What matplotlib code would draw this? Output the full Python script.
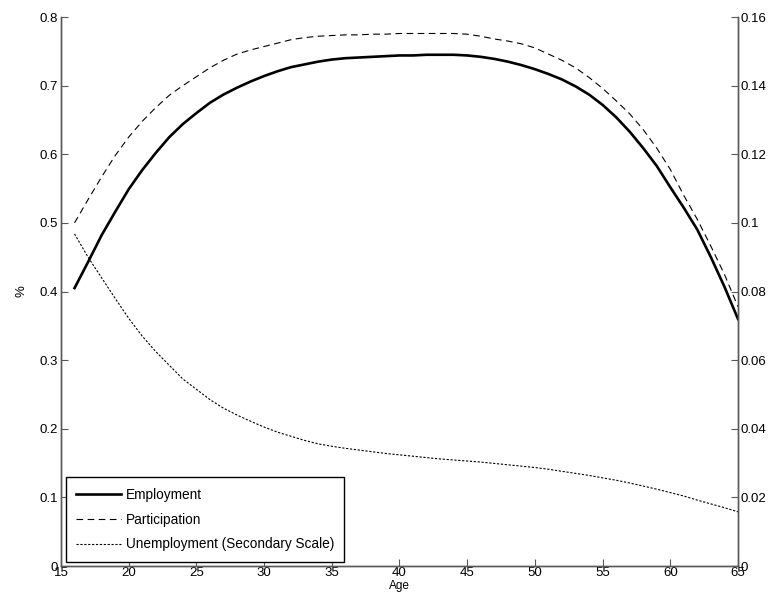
import matplotlib
matplotlib.use("Agg")
import matplotlib.pyplot as plt
import numpy as np

# ages and series
age = np.arange(16, 66)

employment = [0.405, 0.443, 0.482, 0.516, 0.549, 0.577, 0.602, 0.625, 0.644, 0.660,
              0.675, 0.687, 0.697, 0.706, 0.714, 0.721, 0.727, 0.731, 0.735, 0.738,
              0.740, 0.741, 0.742, 0.743, 0.744, 0.744, 0.745, 0.745, 0.745, 0.744,
              0.742, 0.739, 0.735, 0.730, 0.724, 0.717, 0.709, 0.699, 0.687, 0.672,
              0.654, 0.633, 0.609, 0.583, 0.552, 0.522, 0.490, 0.450, 0.407, 0.360]

participation = [0.500, 0.534, 0.567, 0.598, 0.625, 0.648, 0.668, 0.686, 0.700, 0.713,
                 0.726, 0.737, 0.746, 0.752, 0.757, 0.762, 0.767, 0.770, 0.772, 0.773,
                 0.774, 0.774, 0.775, 0.775, 0.776, 0.776, 0.776, 0.776, 0.776, 0.775,
                 0.772, 0.768, 0.765, 0.761, 0.755, 0.746, 0.737, 0.726, 0.712, 0.696,
                 0.678, 0.659, 0.636, 0.609, 0.578, 0.540, 0.505, 0.466, 0.425, 0.378]

unemployment = [0.0968, 0.0900, 0.0840, 0.0780, 0.0722, 0.0670, 0.0625, 0.0585, 0.0545, 0.0515,
                0.0485, 0.0460, 0.0440, 0.0422, 0.0405, 0.0390, 0.0378, 0.0366, 0.0356, 0.0349,
                0.0343, 0.0338, 0.0333, 0.0328, 0.0324, 0.0320, 0.0316, 0.0312, 0.0309, 0.0306,
                0.0303, 0.0299, 0.0295, 0.0291, 0.0287, 0.0282, 0.0276, 0.0270, 0.0264, 0.0257,
                0.0250, 0.0242, 0.0233, 0.0224, 0.0214, 0.0204, 0.0192, 0.0181, 0.0170, 0.0158]

xticks = [15, 20, 25, 30, 35, 40, 45, 50, 55, 60, 65]
yticks_left = [0, 0.1, 0.2, 0.3, 0.4, 0.5, 0.6, 0.7, 0.8]
yticks_right = [0, 0.02, 0.04, 0.06, 0.08, 0.1, 0.12, 0.14, 0.16]

plt.rcParams['font.family'] = ['Liberation Sans', 'DejaVu Sans']
plt.rcParams['font.size'] = 9.5

fig = plt.figure(figsize=(7.7, 5.93), dpi=100)
# axes box: x 61..738 px, y 17..566 px
ax = fig.add_axes([0.0792, 0.0455, 0.8792, 0.9258])
ax2 = ax.twinx()

l1, = ax.plot(age, employment, color="black", lw=1.9, label="Employment")
l2, = ax.plot(age, participation, color="black", lw=0.8, dashes=(6, 4), label="Participation")
l3, = ax2.plot(age, unemployment, color="black", lw=0.8, dashes=(2, 1.5),
               label="Unemployment (Secondary Scale)")

ax.set_xlim(15, 65)
ax.set_ylim(0, 0.8)
ax2.set_ylim(0, 0.16)
ax.set_xticks(xticks)
ax.set_yticks(yticks_left)
ax.set_yticklabels([("%g" % v) for v in yticks_left])
ax2.set_yticks(yticks_right)
ax2.set_yticklabels([("%g" % v) for v in yticks_right])

for a in (ax, ax2):
    a.spines["top"].set_visible(False)
    for s in a.spines.values():
        s.set_color("0.35")
        s.set_linewidth(1.0)
    a.tick_params(direction="in", length=5, width=0.8, color="0.35", pad=2)
ax.tick_params(axis="x", pad=1)

ax.set_xlabel("Age", fontsize=8.5)
ax.xaxis.set_label_coords(0.5, -0.037)
ax.xaxis.label.set_va("center")
ax.set_ylabel("%", labelpad=9)

leg = ax.legend([l1, l2, l3], [l1.get_label(), l2.get_label(), l3.get_label()],
                loc="lower left", bbox_to_anchor=(0.0074, 0.008), borderaxespad=0,
                fancybox=False, framealpha=1, edgecolor="black", fontsize=9.8,
                handlelength=3.3, handletextpad=0.35, labelspacing=0.8,
                borderpad=0.75)
leg.get_frame().set_linewidth(1.0)

fig.savefig("out.png", dpi=100)
